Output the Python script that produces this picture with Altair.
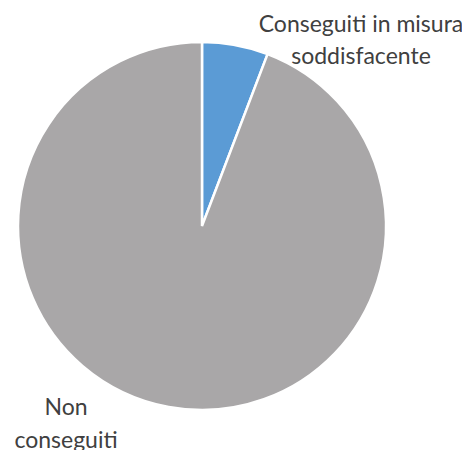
import altair as alt
import pandas as pd

categories = ["Conseguiti in misura soddisfacente", "Non conseguiti"]
values = [5.8, 94.2]
colors = ["#5B9BD5", "#A9A7A8"]
order = [0, 1]

df = pd.DataFrame({"categoria": categories, "valore": values, "ordine": order})

pie = alt.Chart(df).mark_arc(stroke="white", strokeWidth=2.5, outerRadius=184).encode(
    theta=alt.Theta("valore:Q", stack=True),
    order=alt.Order("ordine:Q"),
    color=alt.Color("categoria:N", scale=alt.Scale(domain=categories, range=colors), legend=None),
    x=alt.value(194),
    y=alt.value(218),
)

font = "Lato"
label_color = "#404040"

lab1 = alt.Chart(pd.DataFrame({"t": [["Conseguiti in misura", "soddisfacente"]]})).mark_text(
    font=font, fontSize=23, color=label_color, align="center", baseline="middle", lineHeight=32
).encode(text="t:N", x=alt.value(353), y=alt.value(17))

lab2 = alt.Chart(pd.DataFrame({"t": [["Non", "conseguiti"]]})).mark_text(
    font=font, fontSize=23, color=label_color, align="center", baseline="middle", lineHeight=33
).encode(text="t:N", x=alt.value(58), y=alt.value(400))

chart = alt.layer(pie, lab1, lab2).properties(
    width=454, height=442, padding=0, autosize="none"
).configure_view(stroke=None)

chart.save("out.html", embed_options={"renderer": "svg", "actions": False})
